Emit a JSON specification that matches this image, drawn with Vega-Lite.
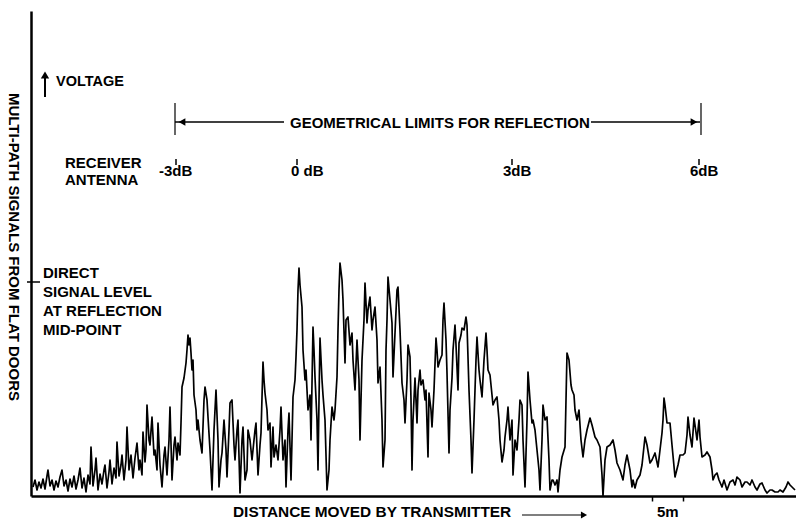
{
  "$schema": "https://vega.github.io/schema/vega-lite/v6.json",
  "width": 765,
  "height": 485,
  "autosize": "none",
  "padding": {"left": 31, "top": 11, "right": 0, "bottom": 25},
  "background": "white",
  "config": {
    "view": {"stroke": null},
    "text": {"font": "Liberation Sans", "fontWeight": "bold", "fontSize": 15, "color": "black", "align": "left", "baseline": "alphabetic"},
    "rule": {"color": "black"}
  },
  "layer": [
    {
      "data": {"values": [
        {"d":33,"v":9},{"d":35,"v":16},{"d":37,"v":6},{"d":39,"v":14},{"d":41,"v":8},{"d":43,"v":17},{"d":45,"v":7},{"d":47,"v":20},{"d":48,"v":26},{"d":50,"v":10},
        {"d":52,"v":16},{"d":54,"v":6},{"d":56,"v":15},{"d":58,"v":9},{"d":60,"v":19},{"d":62,"v":26},{"d":64,"v":10},{"d":66,"v":16},{"d":68,"v":5},{"d":70,"v":17},
        {"d":72,"v":9},{"d":74,"v":20},{"d":76,"v":7},{"d":78,"v":16},{"d":80,"v":28},{"d":82,"v":8},{"d":84,"v":18},{"d":86,"v":4},{"d":88,"v":21},{"d":90,"v":12},
        {"d":91,"v":49},{"d":93,"v":10},{"d":95,"v":26},{"d":96,"v":38},{"d":98,"v":6},{"d":100,"v":22},{"d":102,"v":12},{"d":104,"v":26},{"d":105,"v":31},{"d":107,"v":8},
        {"d":109,"v":24},{"d":110,"v":36},{"d":112,"v":12},{"d":114,"v":28},{"d":116,"v":18},{"d":117,"v":54},{"d":119,"v":20},{"d":121,"v":31},{"d":122,"v":41},{"d":124,"v":16},
        {"d":126,"v":36},{"d":127,"v":69},{"d":129,"v":26},{"d":131,"v":41},{"d":133,"v":18},{"d":135,"v":38},{"d":137,"v":53},{"d":139,"v":26},{"d":140,"v":36},{"d":142,"v":21},
        {"d":143,"v":64},{"d":145,"v":34},{"d":146,"v":46},{"d":147,"v":91},{"d":149,"v":56},{"d":150,"v":51},{"d":152,"v":79},{"d":154,"v":41},{"d":155,"v":46},{"d":157,"v":26},
        {"d":158,"v":73},{"d":160,"v":31},{"d":162,"v":9},{"d":164,"v":41},{"d":165,"v":49},{"d":167,"v":21},{"d":169,"v":56},{"d":170,"v":89},{"d":172,"v":16},{"d":174,"v":51},
        {"d":175,"v":59},{"d":177,"v":36},{"d":178,"v":53},{"d":180,"v":41},{"d":181,"v":73},{"d":182,"v":109},{"d":184,"v":118},{"d":186,"v":133},{"d":187,"v":146},{"d":188,"v":161},
        {"d":189,"v":151},{"d":190,"v":158},{"d":191,"v":143},{"d":192,"v":126},{"d":193,"v":136},{"d":194,"v":101},{"d":196,"v":86},{"d":197,"v":66},{"d":198,"v":76},{"d":200,"v":56},
        {"d":202,"v":43},{"d":204,"v":96},{"d":205,"v":109},{"d":207,"v":96},{"d":208,"v":79},{"d":210,"v":46},{"d":212,"v":6},{"d":214,"v":66},{"d":216,"v":106},{"d":218,"v":56},
        {"d":219,"v":9},{"d":221,"v":36},{"d":222,"v":43},{"d":224,"v":76},{"d":226,"v":46},{"d":227,"v":19},{"d":229,"v":66},{"d":230,"v":93},{"d":232,"v":96},{"d":234,"v":51},
        {"d":235,"v":36},{"d":237,"v":66},{"d":238,"v":76},{"d":240,"v":3},{"d":242,"v":56},{"d":243,"v":69},{"d":245,"v":16},{"d":247,"v":26},{"d":248,"v":66},{"d":250,"v":56},
        {"d":252,"v":36},{"d":253,"v":46},{"d":255,"v":66},{"d":256,"v":73},{"d":258,"v":21},{"d":260,"v":51},{"d":261,"v":63},{"d":263,"v":134},{"d":264,"v":116},{"d":265,"v":103},
        {"d":267,"v":86},{"d":268,"v":66},{"d":270,"v":73},{"d":271,"v":29},{"d":273,"v":69},{"d":274,"v":39},{"d":276,"v":51},{"d":278,"v":36},{"d":280,"v":66},{"d":281,"v":89},
        {"d":283,"v":36},{"d":285,"v":56},{"d":286,"v":9},{"d":288,"v":66},{"d":289,"v":83},{"d":291,"v":16},{"d":292,"v":56},{"d":293,"v":99},{"d":295,"v":116},{"d":296,"v":139},
        {"d":297,"v":166},{"d":298,"v":206},{"d":299,"v":228},{"d":300,"v":211},{"d":302,"v":189},{"d":303,"v":146},{"d":305,"v":116},{"d":306,"v":126},{"d":308,"v":86},{"d":310,"v":101},
        {"d":311,"v":56},{"d":313,"v":169},{"d":314,"v":146},{"d":315,"v":119},{"d":317,"v":76},{"d":318,"v":26},{"d":319,"v":96},{"d":320,"v":158},{"d":322,"v":116},{"d":323,"v":101},
        {"d":325,"v":76},{"d":327,"v":6},{"d":329,"v":26},{"d":330,"v":56},{"d":332,"v":89},{"d":334,"v":76},{"d":335,"v":86},{"d":337,"v":119},{"d":338,"v":166},{"d":339,"v":206},
        {"d":340,"v":233},{"d":342,"v":216},{"d":343,"v":196},{"d":345,"v":133},{"d":346,"v":176},{"d":348,"v":179},{"d":350,"v":151},{"d":352,"v":163},{"d":353,"v":136},{"d":355,"v":106},
        {"d":356,"v":131},{"d":357,"v":156},{"d":359,"v":116},{"d":360,"v":56},{"d":361,"v":96},{"d":362,"v":136},{"d":364,"v":176},{"d":365,"v":213},{"d":367,"v":173},{"d":368,"v":186},
        {"d":370,"v":199},{"d":372,"v":166},{"d":373,"v":176},{"d":375,"v":189},{"d":377,"v":156},{"d":378,"v":113},{"d":380,"v":129},{"d":382,"v":76},{"d":383,"v":29},{"d":385,"v":56},
        {"d":386,"v":146},{"d":387,"v":176},{"d":388,"v":219},{"d":390,"v":196},{"d":392,"v":173},{"d":393,"v":119},{"d":395,"v":163},{"d":397,"v":206},{"d":398,"v":209},{"d":400,"v":166},
        {"d":402,"v":113},{"d":404,"v":96},{"d":405,"v":73},{"d":407,"v":116},{"d":408,"v":151},{"d":410,"v":139},{"d":411,"v":96},{"d":412,"v":26},{"d":413,"v":76},{"d":415,"v":118},
        {"d":417,"v":73},{"d":418,"v":106},{"d":420,"v":126},{"d":421,"v":111},{"d":423,"v":116},{"d":425,"v":96},{"d":426,"v":106},{"d":428,"v":39},{"d":429,"v":103},{"d":431,"v":86},
        {"d":432,"v":69},{"d":434,"v":106},{"d":436,"v":158},{"d":437,"v":146},{"d":438,"v":129},{"d":440,"v":136},{"d":442,"v":141},{"d":443,"v":176},{"d":444,"v":193},{"d":446,"v":156},
        {"d":447,"v":123},{"d":449,"v":43},{"d":450,"v":86},{"d":452,"v":118},{"d":453,"v":146},{"d":455,"v":171},{"d":456,"v":151},{"d":458,"v":106},{"d":459,"v":153},{"d":461,"v":161},
        {"d":462,"v":168},{"d":464,"v":166},{"d":466,"v":179},{"d":467,"v":171},{"d":469,"v":106},{"d":471,"v":56},{"d":472,"v":23},{"d":474,"v":76},{"d":476,"v":136},{"d":477,"v":159},
        {"d":479,"v":126},{"d":480,"v":116},{"d":482,"v":99},{"d":484,"v":136},{"d":486,"v":163},{"d":487,"v":146},{"d":488,"v":126},{"d":490,"v":121},{"d":492,"v":101},{"d":493,"v":91},
        {"d":495,"v":96},{"d":497,"v":99},{"d":499,"v":76},{"d":500,"v":56},{"d":502,"v":34},{"d":504,"v":46},{"d":505,"v":59},{"d":507,"v":76},{"d":508,"v":89},{"d":510,"v":56},
        {"d":512,"v":76},{"d":513,"v":21},{"d":515,"v":56},{"d":517,"v":46},{"d":519,"v":76},{"d":520,"v":96},{"d":522,"v":91},{"d":523,"v":56},{"d":525,"v":9},{"d":527,"v":76},
        {"d":528,"v":124},{"d":530,"v":96},{"d":532,"v":73},{"d":533,"v":76},{"d":535,"v":66},{"d":537,"v":46},{"d":539,"v":26},{"d":540,"v":6},{"d":542,"v":56},{"d":543,"v":91},
        {"d":545,"v":76},{"d":547,"v":79},{"d":549,"v":36},{"d":550,"v":6},{"d":552,"v":16},{"d":553,"v":16},{"d":555,"v":11},{"d":557,"v":16},{"d":558,"v":4},{"d":560,"v":26},
        {"d":562,"v":39},{"d":565,"v":49},{"d":566,"v":96},{"d":567,"v":143},{"d":569,"v":136},{"d":571,"v":111},{"d":572,"v":106},{"d":574,"v":101},{"d":575,"v":86},{"d":577,"v":76},
        {"d":579,"v":86},{"d":581,"v":56},{"d":583,"v":39},{"d":585,"v":56},{"d":587,"v":66},{"d":590,"v":78},{"d":592,"v":71},{"d":595,"v":59},{"d":597,"v":56},{"d":600,"v":49},
        {"d":602,"v":21},{"d":603,"v":0},{"d":605,"v":36},{"d":607,"v":49},{"d":610,"v":51},{"d":613,"v":56},{"d":615,"v":46},{"d":617,"v":33},{"d":620,"v":26},{"d":623,"v":16},
        {"d":625,"v":31},{"d":627,"v":41},{"d":630,"v":26},{"d":632,"v":9},{"d":633,"v":16},{"d":635,"v":8},{"d":637,"v":16},{"d":640,"v":21},{"d":642,"v":31},{"d":645,"v":59},
        {"d":647,"v":51},{"d":650,"v":33},{"d":652,"v":36},{"d":655,"v":43},{"d":658,"v":29},{"d":660,"v":46},{"d":662,"v":63},{"d":663,"v":76},{"d":664,"v":98},{"d":665,"v":91},
        {"d":667,"v":73},{"d":670,"v":73},{"d":672,"v":51},{"d":675,"v":19},{"d":678,"v":31},{"d":680,"v":41},{"d":683,"v":41},{"d":685,"v":43},{"d":687,"v":61},{"d":688,"v":79},
        {"d":690,"v":61},{"d":692,"v":49},{"d":694,"v":78},{"d":695,"v":71},{"d":697,"v":56},{"d":699,"v":76},{"d":700,"v":59},{"d":702,"v":39},{"d":705,"v":41},{"d":707,"v":44},
        {"d":710,"v":39},{"d":712,"v":26},{"d":713,"v":16},{"d":715,"v":21},{"d":717,"v":23},{"d":719,"v":16},{"d":722,"v":9},{"d":724,"v":16},{"d":727,"v":6},{"d":730,"v":14},
        {"d":733,"v":16},{"d":735,"v":11},{"d":737,"v":19},{"d":740,"v":16},{"d":742,"v":9},{"d":745,"v":14},{"d":747,"v":14},{"d":750,"v":11},{"d":752,"v":16},{"d":755,"v":9},
        {"d":757,"v":6},{"d":760,"v":12},{"d":762,"v":13},{"d":765,"v":6},{"d":767,"v":3},{"d":770,"v":6},{"d":772,"v":6},{"d":775,"v":4},{"d":778,"v":4},{"d":780,"v":6},
        {"d":783,"v":4},{"d":786,"v":9},{"d":788,"v":14},{"d":790,"v":11},{"d":793,"v":8},{"d":795,"v":6}
      ]},
      "mark": {"type": "line", "color": "black", "strokeWidth": 1.7, "strokeJoin": "round"},
      "encoding": {
        "x": {"field": "d", "type": "quantitative", "scale": {"domain": [31, 796], "nice": false, "zero": false},
              "axis": {"title": null, "labels": false, "grid": false, "values": [652, 683], "tickSize": 5, "tickWidth": 1.5, "tickColor": "black", "domainColor": "black", "domainWidth": 2.5}},
        "y": {"field": "v", "type": "quantitative", "scale": {"domain": [0, 485], "nice": false, "zero": false},
              "axis": {"title": null, "labels": false, "grid": false, "ticks": false, "domainColor": "black", "domainWidth": 2.5}}
      }
    },
    {"data": {"values": [{}]}, "mark": {"type": "rule", "strokeWidth": 1.5},
     "encoding": {"x": {"datum": 27}, "x2": {"datum": 40}, "y": {"datum": 214}}},
    {"data": {"values": [{}]}, "mark": {"type": "rule", "strokeWidth": 1.5},
     "encoding": {"x": {"datum": 175}, "x2": {"datum": 284}, "y": {"datum": 374}}},
    {"data": {"values": [{}]}, "mark": {"type": "rule", "strokeWidth": 1.5},
     "encoding": {"x": {"datum": 591}, "x2": {"datum": 700}, "y": {"datum": 374}}},
    {"data": {"values": [{}]}, "mark": {"type": "rule", "strokeWidth": 1.2},
     "encoding": {"x": {"datum": 175}, "y": {"datum": 393}, "y2": {"datum": 361}}},
    {"data": {"values": [{}]}, "mark": {"type": "rule", "strokeWidth": 1.2},
     "encoding": {"x": {"datum": 701}, "y": {"datum": 393}, "y2": {"datum": 361}}},
    {"data": {"values": [{}]}, "mark": {"type": "point", "shape": "triangle-left", "filled": true, "color": "black", "size": 60, "opacity": 1},
     "encoding": {"x": {"datum": 182}, "y": {"datum": 374}}},
    {"data": {"values": [{}]}, "mark": {"type": "point", "shape": "triangle-right", "filled": true, "color": "black", "size": 60, "opacity": 1},
     "encoding": {"x": {"datum": 694}, "y": {"datum": 374}}},
    {"data": {"values": [{}]}, "mark": {"type": "rule", "strokeWidth": 2},
     "encoding": {"x": {"datum": 45}, "y": {"datum": 399}, "y2": {"datum": 420}}},
    {"data": {"values": [{}]}, "mark": {"type": "point", "shape": "triangle-up", "filled": true, "color": "black", "size": 70, "opacity": 1},
     "encoding": {"x": {"datum": 45}, "y": {"datum": 421}}},
    {"data": {"values": [{}]}, "mark": {"type": "rule", "strokeWidth": 1.2},
     "encoding": {"x": {"datum": 522}, "x2": {"datum": 582}, "y": {"datum": -19}}},
    {"data": {"values": [{}]}, "mark": {"type": "point", "shape": "triangle-right", "filled": true, "color": "black", "size": 50, "opacity": 1},
     "encoding": {"x": {"datum": 584}, "y": {"datum": -19}}},
    {"data": {"values": [{"d": 176}, {"d": 297}, {"d": 512}, {"d": 699}]}, "mark": {"type": "rule", "strokeWidth": 1.5},
     "encoding": {"x": {"field": "d", "type": "quantitative"}, "y": {"datum": 337}, "y2": {"datum": 331}}},
    {"data": {"values": [{}]}, "mark": {"type": "text", "fontSize": 14.5},
     "encoding": {"x": {"datum": 56}, "y": {"datum": 410}, "text": {"value": "VOLTAGE"}}},
    {"data": {"values": [{}]}, "mark": {"type": "text"},
     "encoding": {"x": {"datum": 290}, "y": {"datum": 368}, "text": {"value": "GEOMETRICAL LIMITS FOR REFLECTION"}}},
    {"data": {"values": [{}]}, "mark": {"type": "text", "lineHeight": 17},
     "encoding": {"x": {"datum": 65}, "y": {"datum": 328}, "text": {"value": ["RECEIVER", "ANTENNA"]}}},
    {"data": {"values": [{}]}, "mark": {"type": "text"},
     "encoding": {"x": {"datum": 159}, "y": {"datum": 320}, "text": {"value": "-3dB"}}},
    {"data": {"values": [{}]}, "mark": {"type": "text"},
     "encoding": {"x": {"datum": 291}, "y": {"datum": 320}, "text": {"value": "0 dB"}}},
    {"data": {"values": [{}]}, "mark": {"type": "text"},
     "encoding": {"x": {"datum": 503}, "y": {"datum": 320}, "text": {"value": "3dB"}}},
    {"data": {"values": [{}]}, "mark": {"type": "text"},
     "encoding": {"x": {"datum": 690}, "y": {"datum": 320}, "text": {"value": "6dB"}}},
    {"data": {"values": [{}]}, "mark": {"type": "text", "lineHeight": 19},
     "encoding": {"x": {"datum": 43}, "y": {"datum": 218}, "text": {"value": ["DIRECT", "SIGNAL LEVEL", "AT REFLECTION", "MID-POINT"]}}},
    {"data": {"values": [{}]}, "mark": {"type": "text", "angle": 90, "align": "center", "baseline": "middle"},
     "encoding": {"x": {"datum": 14}, "y": {"datum": 249}, "text": {"value": "MULTI-PATH SIGNALS FROM FLAT DOORS"}}},
    {"data": {"values": [{}]}, "mark": {"type": "text", "fontSize": 15.4},
     "encoding": {"x": {"datum": 233}, "y": {"datum": -21}, "text": {"value": "DISTANCE MOVED BY TRANSMITTER"}}},
    {"data": {"values": [{}]}, "mark": {"type": "text"},
     "encoding": {"x": {"datum": 657}, "y": {"datum": -21}, "text": {"value": "5m"}}}
  ]
}
